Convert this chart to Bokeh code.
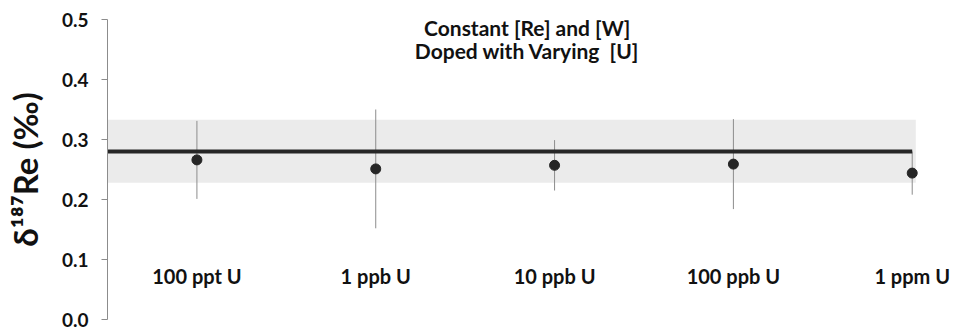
from bokeh.plotting import figure
from bokeh.models import Range1d, FixedTicker, PrintfTickFormatter, ColumnDataSource
from bokeh.core.properties import value
from bokeh.embed import file_html
from bokeh.resources import INLINE

# Measured δ187Re for each uranium doping level
categories = ["100 ppt U", "1 ppb U", "10 ppb U", "100 ppb U", "1 ppm U"]
delta_re = [0.266, 0.251, 0.257, 0.259, 0.244]
uncert = [0.065, 0.099, 0.042, 0.075, 0.036]

# Reference mean and its uncertainty band
mean_value = 0.28
band_low = 0.228
band_high = 0.333

y_ticks = [0.0, 0.1, 0.2, 0.3, 0.4, 0.5]
title_lines = ["Constant [Re] and [W]", "Doped with Varying\u00a0 [U]"]

FONT = "Lato"
xs = list(range(1, len(categories) + 1))

src = ColumnDataSource(data=dict(
    x=xs,
    y=delta_re,
    lo=[v - e for v, e in zip(delta_re, uncert)],
    hi=[v + e for v, e in zip(delta_re, uncert)],
    name=categories,
))

p = figure(width=960, height=329, output_backend="svg", toolbar_location=None,
           x_range=Range1d(0.5, 5.27), y_range=Range1d(0.0, 0.5),
           min_border_left=107, min_border_right=0, min_border_top=19,
           min_border_bottom=10)
p.outline_line_color = None
p.xgrid.visible = False
p.ygrid.visible = False
p.xaxis.visible = False
p.background_fill_color = "white"
p.border_fill_color = "white"

# uncertainty band around the mean
p.quad(left=0.5, right=xs[-1] + 0.02, bottom=band_low, top=band_high,
       fill_color="#ebebeb", line_color=None)

# error bars
p.segment(x0="x", y0="lo", x1="x", y1="hi", source=src,
          line_color="#8c8c8c", line_width=1)

# mean line
p.segment(x0=0.5, y0=mean_value, x1=xs[-1], y1=mean_value,
          line_color="#262626", line_width=4)

# data points
p.scatter(x="x", y="y", source=src, size=10, fill_color="#262626",
          line_color="#262626")

# category labels
p.text(x="x", y=0.072, text="name", source=src, text_font=value(FONT),
       text_font_style="bold", text_font_size="20px", text_color="#111111",
       text_align="center", text_baseline="middle")

# title inside the plot area
p.text(x=[2.847, 2.847], y=[0.487, 0.449], text=title_lines,
       text_font=value(FONT), text_font_style="bold", text_font_size="21px",
       text_color="#111111", text_align="center", text_baseline="middle")

ax = p.yaxis[0]
ax.ticker = FixedTicker(ticks=y_ticks)
ax.formatter = PrintfTickFormatter(format="%.1f")
ax.axis_line_color = "#8c8c8c"
ax.major_tick_line_color = "#8c8c8c"
ax.major_tick_out = 6
ax.major_tick_in = 0
ax.minor_tick_line_color = None
ax.major_label_text_font = FONT
ax.major_label_text_font_style = "bold"
ax.major_label_text_font_size = "19px"
ax.major_label_text_color = "#111111"
ax.major_label_standoff = 13
ax.axis_label = "δ¹⁸⁷Re (‰)"
ax.axis_label_text_font = FONT
ax.axis_label_text_font_style = "bold"
ax.axis_label_text_font_size = "33px"
ax.axis_label_text_color = "#111111"
ax.axis_label_standoff = 14

open("out.html", "w").write(file_html(p, INLINE))
